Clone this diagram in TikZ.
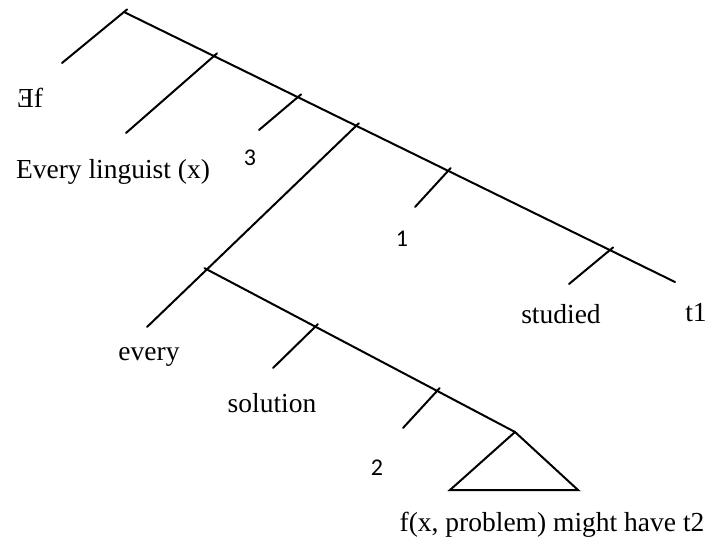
\documentclass[tikz,border=0pt]{standalone}
\usepackage{fontspec}
\setmainfont{Liberation Serif}
\newfontfamily\numfont{Carlito}

\begin{document}
\begin{tikzpicture}[
    x=1pt, y=-1pt,
    branch/.style={line width=2pt, line cap=round},
    tick/.style={branch, shorten <=-4pt},
    word/.style={font=\fontsize{27.5}{30}\selectfont, inner sep=0pt},
    index/.style={font=\numfont\fontsize{24}{28}\selectfont, inner sep=0pt}
]
\useasboundingbox (0,0) rectangle (714,540);

% upper spine
\coordinate (top)  at (124,12);
\coordinate (j1)   at (214,56);
\coordinate (j2)   at (298,97);
\coordinate (j3)   at (356,126);
\coordinate (j5)   at (448,171);
\coordinate (j6)   at (610,250);
\coordinate (tend) at (675,282);

% lower spine
\coordinate (j4)   at (208,270);
\coordinate (k1)   at (315,327);
\coordinate (k2)   at (437,391);
\coordinate (apex) at (515,432);

% free ends
\coordinate (e0) at (62,63);
\coordinate (e1) at (126,133);
\coordinate (e2) at (259,130);
\coordinate (e4) at (147,327);
\coordinate (e5) at (415,207);
\coordinate (e6) at (569,284);
\coordinate (e7) at (273,368);
\coordinate (e8) at (403,428);
\coordinate (bl) at (450,490);
\coordinate (br) at (578,490);

\draw[branch] (top) -- (tend);
\draw[tick] (top) -- (e0);
\draw[tick] (j1) -- (e1);
\draw[tick] (j2) -- (e2);
\draw[tick] (j3) -- (e4);
\draw[tick] (j5) -- (e5);
\draw[tick] (j6) -- (e6);

\draw[tick] (j4) -- (apex);
\draw[tick] (k1) -- (e7);
\draw[tick] (k2) -- (e8);
\draw[branch, line join=miter] (apex) -- (bl) -- (br) -- cycle;

% labels
\node[word]  (exf)      at (30,98)   {Ǝf};
\node[word]  (linguist) at (113,172) {Every linguist (x)};
\node[index] (i3)       at (250,158) {3};
\node[index] (i1)       at (402,239) {1};
\node[word]  (studied)  at (561,314) {studied};
\node[word]  (t1)       at (696,313) {t1};
\node[word]  (every)    at (149,357) {every};
\node[word]  (solution) at (272,403) {solution};
\node[index] (i2)       at (377,468) {2};
\node[word]  (rest)     at (552,525) {f(x, problem) might have t2};

\end{tikzpicture}
\end{document}
